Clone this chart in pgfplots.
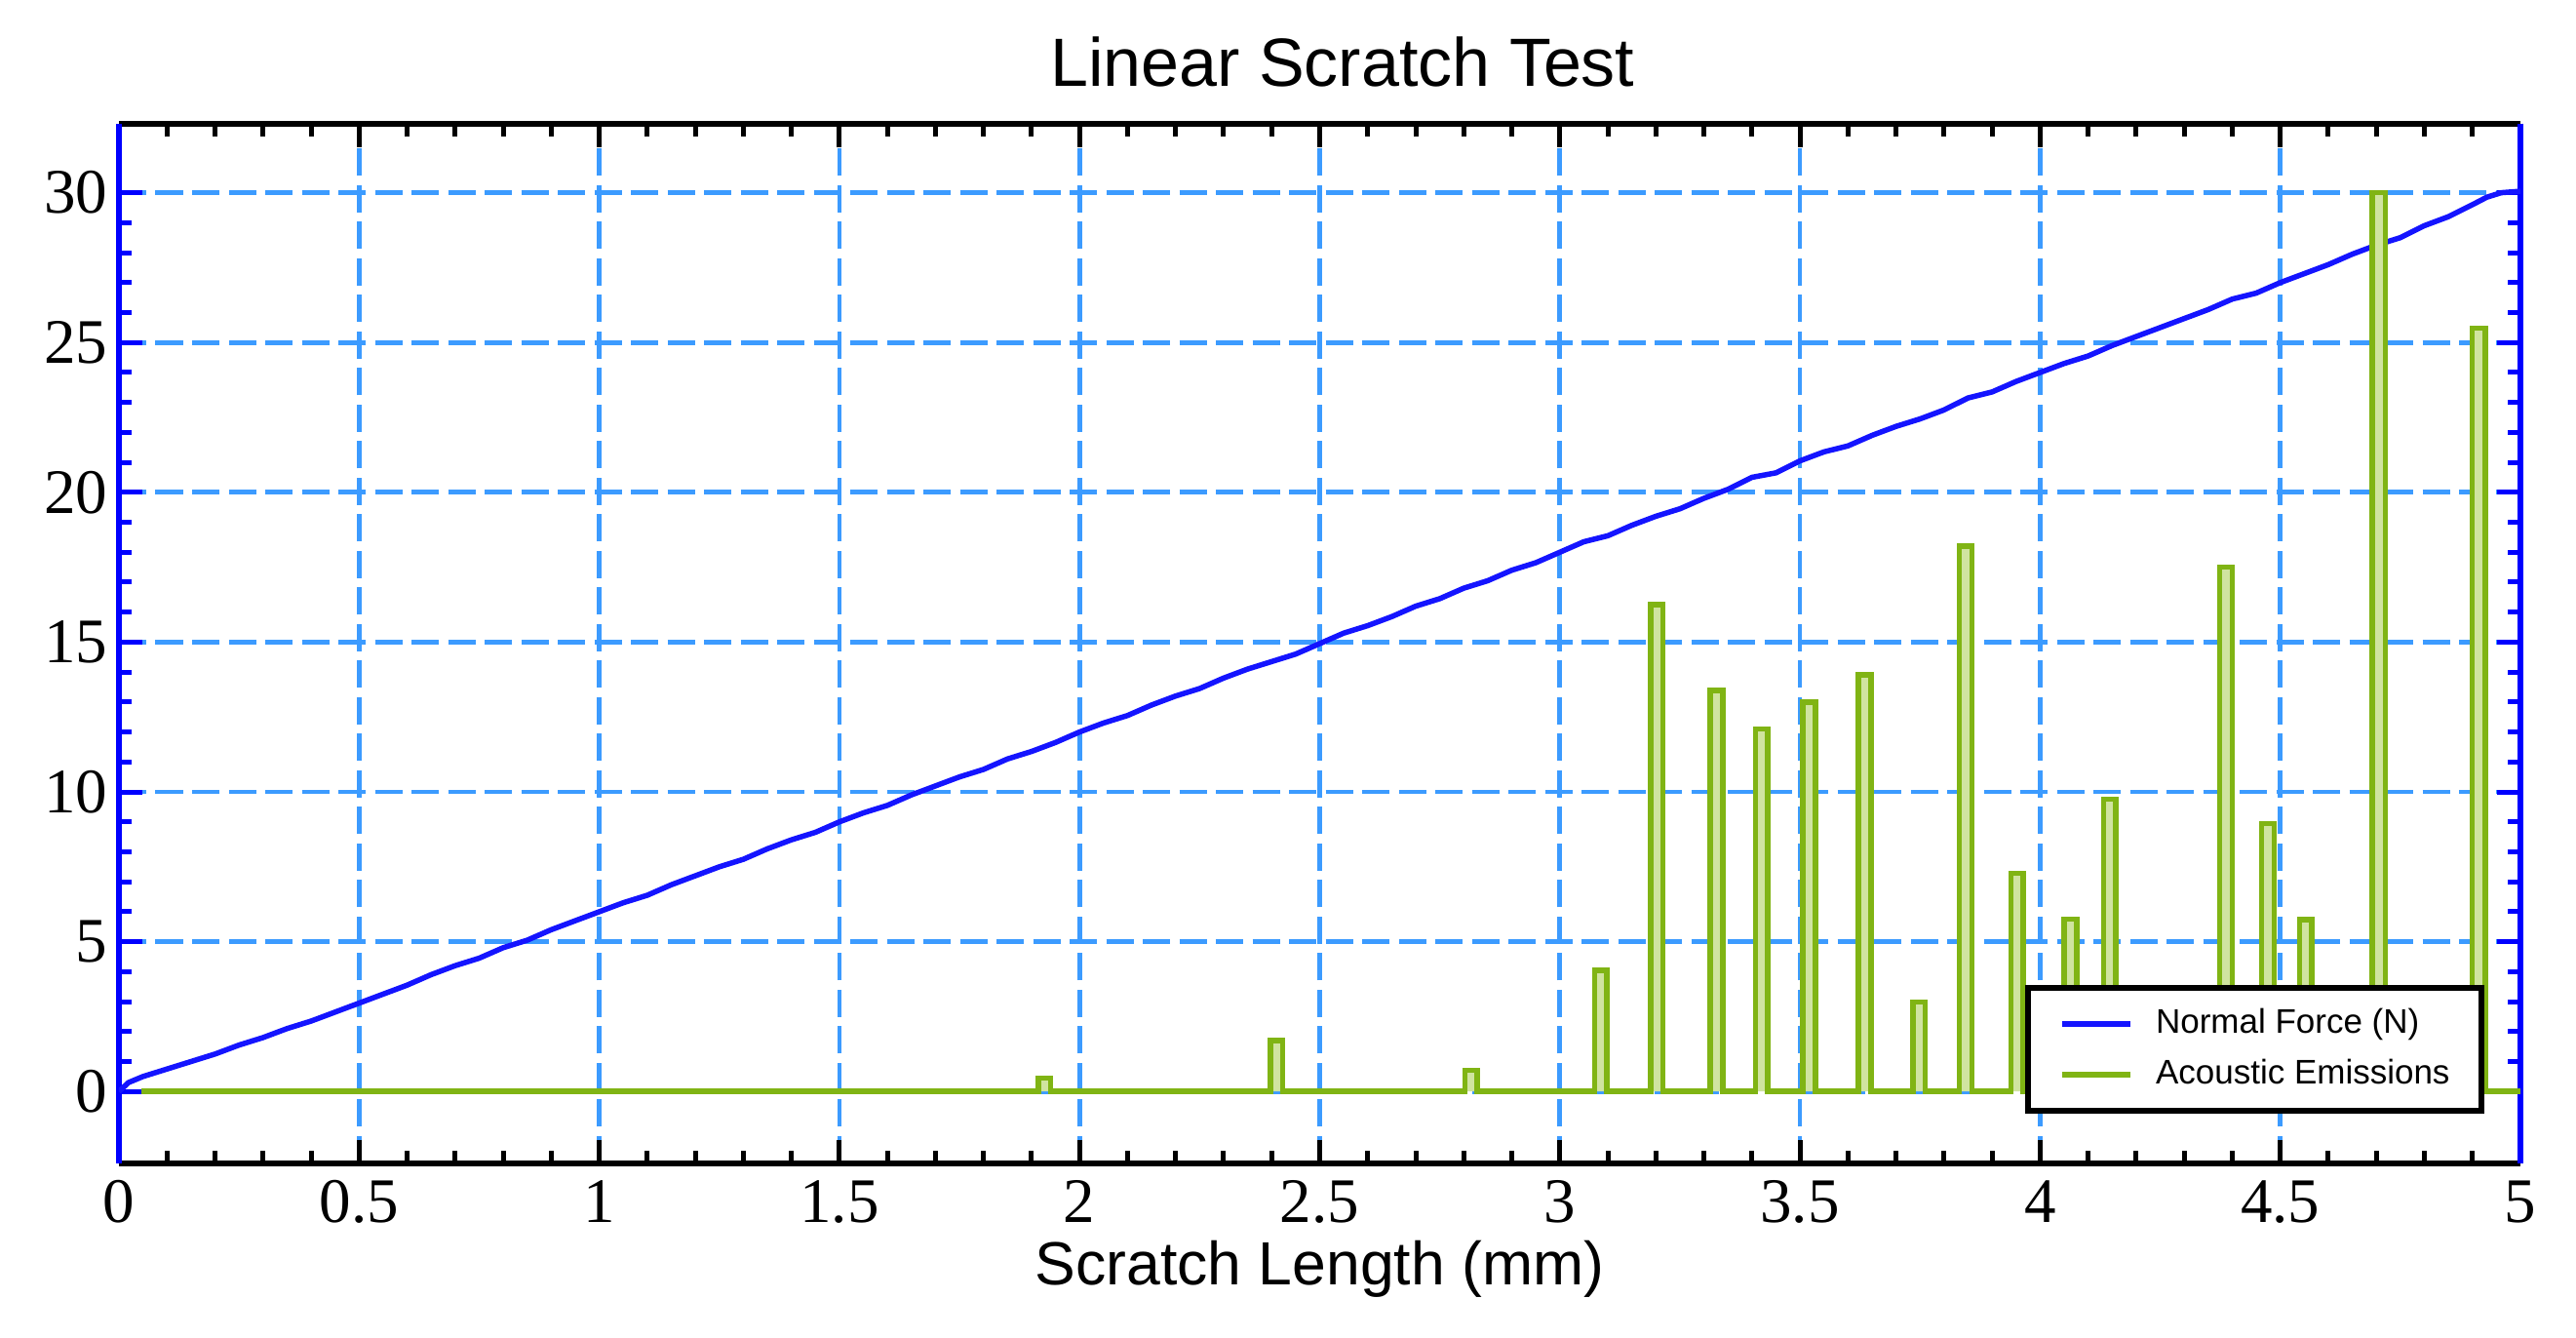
\documentclass[border=0pt]{standalone}
\usepackage{pgfplots}
\pgfplotsset{compat=1.18}
\usepackage{fontspec}
\setmainfont{Liberation Sans}
\newfontfamily\tickfont{Liberation Serif}
\definecolor{fblue}{RGB}{20,20,255}
\definecolor{axblue}{RGB}{0,0,255}
\definecolor{gridblue}{RGB}{60,155,255}
\definecolor{aegreen}{RGB}{128,180,20}
\definecolor{aefill}{RGB}{208,228,160}
\begin{document}
\begin{tikzpicture}
\begin{axis}[
  scale only axis,
  width=492.6pt, height=213.2pt,
  xmin=0, xmax=5, ymin=-2.4, ymax=32.3,
  xtick={0,0.5,...,5}, ytick={0,5,...,30},
  minor x tick num=4, minor y tick num=4,
  tick align=inside,
  major tick length=4.8pt, minor tick length=2.6pt,
  separate axis lines,
  x axis line style={black, line width=1.1pt},
  y axis line style={axblue, line width=1.3pt},
  xtick style={black, line width=1pt},
  ytick style={axblue, line width=1pt},
  grid=major,
  major grid style={gridblue, line width=0.95pt, dash pattern=on 5.6pt off 1.9pt},
  /pgf/number format/assume math mode=true,
  ticklabel style={font=\tickfont\fontsize{13}{13}\selectfont},
  yticklabel style={xshift=1.2pt},
  title={Linear Scratch Test},
  title style={font=\fontsize{14}{15}\selectfont, at={(axis description cs:0.5095,1)}, anchor=base, yshift=1.6pt},
  xlabel={Scratch Length (mm)},
  xlabel style={font=\fontsize{12.5}{13}\selectfont, at={(axis description cs:0.5,0)}, anchor=base, yshift=-25pt},
  legend cell align=left,
  legend image code/.code={\draw[#1] (0pt,0pt) -- (14pt,0pt);},
  legend style={at={(0.985,0.048)}, anchor=south east, draw=black, line width=1.2pt,
    font=\fontsize{7}{8}\selectfont, inner xsep=6.5pt, inner ysep=3pt,
    row sep=1.7pt, column sep=4.6pt,
    nodes={inner xsep=0pt, inner ysep=1pt, text height=5.2pt, text depth=1.5pt}},
]
\addplot[fblue, line width=1.1pt] coordinates {
(0,0) (0.02,0.3) (0.05,0.5) (0.1,0.75) (0.15,1.0) (0.2,1.25) (0.25,1.55) (0.3,1.8)
(0.35,2.1) (0.4,2.35) (0.45,2.65) (0.5,2.95) (0.55,3.25) (0.6,3.55) (0.65,3.9)
(0.7,4.2) (0.75,4.45) (0.8,4.8) (0.85,5.05) (0.9,5.4) (0.95,5.7) (1.0,6.0)
(1.05,6.3) (1.1,6.55) (1.15,6.9) (1.2,7.2) (1.25,7.5) (1.3,7.75) (1.35,8.1)
(1.4,8.4) (1.45,8.65) (1.5,9.0) (1.55,9.3) (1.6,9.55) (1.65,9.9) (1.7,10.2)
(1.75,10.5) (1.8,10.75) (1.85,11.1) (1.9,11.35) (1.95,11.65) (2.0,12.0)
(2.05,12.3) (2.1,12.55) (2.15,12.9) (2.2,13.2) (2.25,13.45) (2.3,13.8)
(2.35,14.1) (2.4,14.35) (2.45,14.6) (2.5,14.95) (2.55,15.3) (2.6,15.55)
(2.65,15.85) (2.7,16.2) (2.75,16.45) (2.8,16.8) (2.85,17.05) (2.9,17.4)
(2.95,17.65) (3.0,18.0) (3.05,18.35) (3.1,18.55) (3.15,18.9) (3.2,19.2)
(3.25,19.45) (3.3,19.8) (3.35,20.1) (3.4,20.5) (3.45,20.65) (3.5,21.05)
(3.55,21.35) (3.6,21.55) (3.65,21.9) (3.7,22.2) (3.75,22.45) (3.8,22.75)
(3.85,23.15) (3.9,23.35) (3.95,23.7) (4.0,24.0) (4.05,24.3) (4.1,24.55)
(4.15,24.9) (4.2,25.2) (4.25,25.5) (4.3,25.8) (4.35,26.1) (4.4,26.45)
(4.45,26.65) (4.5,27.0) (4.55,27.3) (4.6,27.6) (4.65,27.95) (4.7,28.25)
(4.75,28.5) (4.8,28.9) (4.85,29.2) (4.9,29.6) (4.93,29.85) (4.96,30.0) (5.0,30.05)
};
\addlegendentry{Normal Force (N)}
\addplot[aegreen, line width=1.1pt, fill=aefill] coordinates {
(0.047,0)
(1.914,0) (1.914,0.45) (1.940,0.45) (1.940,0)
(2.397,0) (2.397,1.7) (2.423,1.7) (2.423,0)
(2.802,0) (2.802,0.7) (2.828,0.7) (2.828,0)
(3.072,0) (3.072,4.05) (3.098,4.05) (3.098,0)
(3.189,0) (3.189,16.25) (3.215,16.25) (3.215,0)
(3.313,0) (3.313,13.38) (3.339,13.38) (3.339,0)
(3.407,0) (3.407,12.1) (3.433,12.1) (3.433,0)
(3.506,0) (3.506,13.0) (3.532,13.0) (3.532,0)
(3.622,0) (3.622,13.9) (3.648,13.9) (3.648,0)
(3.735,0) (3.735,2.98) (3.761,2.98) (3.761,0)
(3.832,0) (3.832,18.2) (3.858,18.2) (3.858,0)
(3.939,0) (3.939,7.29) (3.965,7.29) (3.965,0)
(4.050,0) (4.050,5.76) (4.076,5.76) (4.076,0)
(4.132,0) (4.132,9.75) (4.158,9.75) (4.158,0)
(4.374,0) (4.374,17.5) (4.400,17.5) (4.400,0)
(4.461,0) (4.461,8.94) (4.487,8.94) (4.487,0)
(4.540,0) (4.540,5.73) (4.566,5.73) (4.566,0)
(4.691,0) (4.691,30.0) (4.719,30.0) (4.719,0)
(4.899,0) (4.899,25.48) (4.927,25.48) (4.927,0)
(5.0,0)
};
\addlegendentry{Acoustic Emissions}
\end{axis}
\pgfresetboundingbox
\useasboundingbox (-24.4pt,-35.8pt) rectangle (504pt,238.6pt);
\end{tikzpicture}
\end{document}
